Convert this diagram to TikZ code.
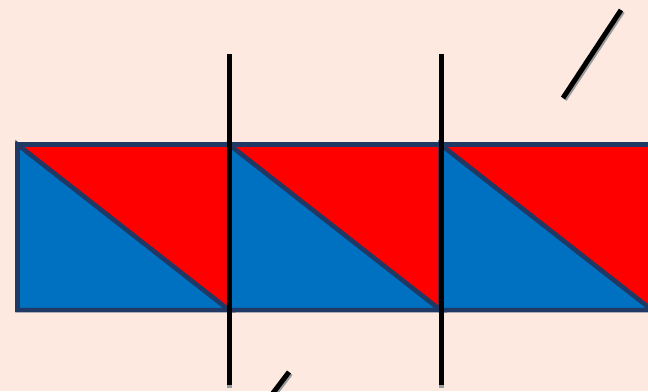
\documentclass[tikz,border=0pt]{standalone}
\definecolor{bgpeach}{HTML}{FDE9E0}
\definecolor{fillred}{HTML}{FF0000}
\definecolor{fillblue}{HTML}{0070C0}
\definecolor{navy}{HTML}{1F3864}
\definecolor{shadowgray}{HTML}{9A9A9A}
\tikzset{
  edge/.style={draw=navy, line width=4.5pt, line join=miter},
  blackline/.style={draw=black, line width=5pt},
  shadowline/.style={draw=shadowgray, line width=5pt},
}
\begin{document}
\begin{tikzpicture}[x=1pt,y=-1pt]
\useasboundingbox (0,0) rectangle (648,391);
\fill[bgpeach] (0,0) rectangle (648,391);
\begin{scope}
\clip (0,0) rectangle (648,391);
% red background of the strip
\fill[fillred] (17.5,144.5) rectangle (660,310);
% blue triangles
\foreach \x in {17.5,229,440.5} {
  \filldraw[fill=fillblue, edge] (\x,144.5) -- (\x+211.5,310) -- (\x,310) -- cycle;
}
% outer border
\draw[edge] (700,144.5) -- (17.5,144.5) -- (17.5,310) -- (700,310);
% vertical lines with shadows
\foreach \x in {229,441} {
  \draw[shadowline] (\x+0.6,55) -- (\x+0.6,388);
  \draw[blackline] (\x,54) -- (\x,385);
}
% slanted segments
\draw[shadowline] (564.5,99.5) -- (622.5,11.5);
\draw[blackline] (563,98) -- (621,10);
\draw[shadowline] (290.5,373.5) -- (266.5,405);
\draw[blackline] (289,372) -- (265,403.5);
\end{scope}
\end{tikzpicture}
\end{document}
